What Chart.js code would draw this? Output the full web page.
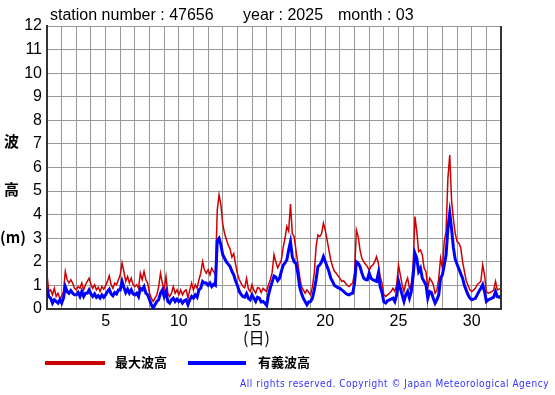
<!DOCTYPE html>
<html><head><meta charset="utf-8">
<script src="https://cdn.jsdelivr.net/npm/chart.js@4"></script>
<style>
html,body{margin:0;padding:0;background:#fff;}
#wrap{position:relative;width:555px;height:395px;overflow:hidden;background:#fff;}
#c{position:absolute;left:0;top:0;}
.t{position:absolute;white-space:nowrap;color:#000;line-height:1;}
.ttl{font-family:"Liberation Sans",Arial,sans-serif;font-size:16px;}
.jp{font-family:"Noto Sans CJK JP",sans-serif;font-weight:bold;}
.leg{position:absolute;height:4px;}
</style></head>
<body>
<div id="wrap">
<canvas id="c" width="555" height="395"></canvas>
<div class="t ttl" style="left:50px;top:7px;">station number : 47656</div>
<div class="t ttl" style="left:243px;top:7px;">year : 2025</div>
<div class="t ttl" style="left:338px;top:7px;">month : 03</div>
<div class="t jp" style="left:4px;top:133px;font-size:15px;">波</div>
<div class="t jp" style="left:4px;top:181px;font-size:15px;">高</div>
<div class="t jp" style="left:0px;top:229px;font-size:15px;">(m)</div>
<div class="t" style="left:243px;top:329px;font-size:16px;font-family:'Noto Sans CJK JP',sans-serif;">(日)</div>
<div class="leg" style="left:45px;top:361px;width:60px;background:#cc0000;"></div>
<div class="t jp" style="left:115px;top:355px;font-size:13px;">最大波高</div>
<div class="leg" style="left:188px;top:361px;width:58px;background:#0000ff;"></div>
<div class="t jp" style="left:258px;top:355px;font-size:13px;">有義波高</div>
<div id="foot" class="t" style="left:240px;top:379px;font-size:10px;font-family:'DejaVu Sans',sans-serif;color:#3333ff;letter-spacing:0.6px;transform-origin:0 0;">All rights reserved. Copyright © Japan Meteorological Agency</div>
</div>
<script>
// Hourly data sampled every 3 hours (8 values per day), March 1 00:00 to April 1 00:00
const startDay = 1;
const samplesPerDay = 8;
const maxWave = [
1.45,0.74,0.81,0.60,0.88,0.53,0.67,0.46,
0.53,0.74,1.59,1.24,1.10,1.24,1.10,0.88,
0.81,0.95,0.88,1.10,0.81,1.03,1.17,1.31,
1.03,0.88,1.03,0.81,0.92,0.74,0.95,0.84,
0.98,1.17,1.41,1.03,0.88,1.10,1.03,1.24,
1.45,1.95,1.59,1.17,1.38,1.10,1.31,1.03,
0.95,1.03,0.88,1.52,1.24,1.59,1.24,1.10,
0.67,0.46,0.32,0.46,0.60,0.95,1.52,1.10,
0.81,1.38,0.67,0.53,0.67,0.95,0.67,0.81,
0.60,0.81,0.60,0.75,0.81,0.46,0.81,1.10,
0.81,1.03,0.88,1.24,1.52,2.01,1.66,1.52,
1.66,1.45,1.73,1.59,1.45,4.20,4.84,4.41,
3.60,3.20,2.95,2.70,2.55,2.20,2.35,1.90,
1.50,1.25,1.10,0.95,0.90,1.30,0.85,0.74,
1.03,0.80,0.67,0.90,0.88,0.70,0.88,0.80,
0.74,1.03,1.25,1.55,2.30,2.00,1.75,1.90,
2.08,2.60,3.00,3.50,3.30,4.45,3.20,3.07,
2.50,1.95,1.38,0.95,0.81,0.67,0.81,0.70,
0.60,0.95,1.52,2.65,3.14,3.07,3.20,3.64,
3.35,2.93,2.50,2.08,1.80,1.60,1.52,1.40,
1.31,1.17,1.20,1.10,1.00,0.95,1.05,1.10,
1.52,3.35,3.07,2.50,2.15,2.00,1.90,1.80,
1.65,1.80,1.87,2.00,2.22,1.94,1.38,1.10,
0.60,0.53,0.60,0.67,0.75,0.88,0.74,1.03,
1.87,1.45,1.03,0.74,1.10,1.31,0.88,1.03,
1.80,3.92,3.28,2.44,2.50,2.30,1.73,1.59,
0.88,1.31,1.20,1.03,0.67,0.80,1.31,2.15,
1.73,2.86,3.30,5.54,6.53,4.60,3.80,3.20,
2.86,2.80,2.60,2.01,1.60,1.20,1.00,0.81,
0.74,0.80,0.88,1.03,1.10,1.17,1.87,1.45,
0.74,0.67,0.70,0.74,0.80,1.17,0.81,0.85,
0.85];
const sigWave = [
0.88,0.53,0.46,0.25,0.39,0.32,0.25,0.39,
0.25,0.46,0.95,0.74,0.67,0.78,0.67,0.60,
0.60,0.70,0.53,0.74,0.53,0.67,0.67,0.81,
0.64,0.53,0.64,0.49,0.56,0.46,0.60,0.50,
0.60,0.74,0.84,0.64,0.56,0.70,0.64,0.81,
0.81,1.17,0.92,0.70,0.84,0.67,0.81,0.64,
0.60,0.67,0.53,0.88,0.81,0.95,0.67,0.60,
0.39,0.18,0.04,0.18,0.32,0.39,0.67,0.81,
0.53,0.74,0.32,0.25,0.39,0.46,0.32,0.42,
0.32,0.39,0.25,0.35,0.39,0.18,0.39,0.53,
0.46,0.60,0.50,0.81,0.88,1.17,1.10,1.10,
1.00,1.10,0.95,1.05,1.00,2.90,3.00,2.72,
2.30,2.15,2.00,1.90,1.80,1.60,1.45,1.20,
1.00,0.75,0.62,0.53,0.50,0.65,0.45,0.39,
0.60,0.45,0.32,0.50,0.46,0.30,0.32,0.25,
0.15,0.60,0.90,1.15,1.40,1.35,1.20,1.30,
1.59,1.85,1.95,2.08,2.50,2.85,2.22,2.00,
1.94,1.52,0.95,0.67,0.46,0.32,0.18,0.30,
0.32,0.46,0.81,1.24,1.80,1.87,2.00,2.22,
2.01,1.80,1.59,1.31,1.17,1.00,0.95,0.90,
0.88,0.81,0.75,0.67,0.62,0.60,0.65,0.67,
1.10,2.00,1.94,1.80,1.52,1.31,1.25,1.24,
1.52,1.30,1.24,1.20,1.17,1.52,0.95,0.70,
0.30,0.25,0.35,0.39,0.42,0.46,0.32,0.60,
1.17,0.88,0.60,0.32,0.60,0.74,0.46,0.74,
1.40,2.36,2.15,1.59,1.73,1.31,1.17,1.03,
0.46,0.74,0.70,0.46,0.25,0.40,0.60,1.31,
1.45,1.87,2.30,3.42,4.06,3.40,2.60,2.10,
1.90,1.70,1.50,1.31,1.00,0.80,0.60,0.46,
0.39,0.42,0.45,0.60,0.75,0.88,1.03,0.74,
0.32,0.39,0.42,0.46,0.50,0.74,0.53,0.50,
0.55];
const xTickLabels = [5,10,15,20,25,30];
const yTicks = [0,1,2,3,4,5,6,7,8,9,10,11,12];

const toPts = arr => arr.map((v,i)=>({x: startDay + i/samplesPerDay, y: v}));

const rightEdge = {
  id:'rightEdge',
  afterDraw(chart){
    const a = chart.chartArea, ctx = chart.ctx;
    ctx.save();
    ctx.strokeStyle = '#333';
    ctx.lineWidth = 2;
    ctx.beginPath();
    ctx.moveTo(a.right, a.top);
    ctx.lineTo(a.right, a.bottom);
    ctx.stroke();
    ctx.restore();
  }
};

new Chart(document.getElementById('c'), {
  type:'line',
  data:{datasets:[
    {label:'最大波高', data: toPts(maxWave), borderColor:'#cc0000', borderWidth:1.5, pointRadius:0, tension:0, order:2},
    {label:'有義波高', data: toPts(sigWave), borderColor:'#0000ff', borderWidth:3, pointRadius:0, tension:0, order:1}
  ]},
  options:{
    responsive:false, animation:false, devicePixelRatio:1,
    layout:{padding:{top:26,right:54,left:0,bottom:0}},
    plugins:{legend:{display:false}, tooltip:{enabled:false}},
    scales:{
      x:{type:'linear', min:1, max:32,
        ticks:{stepSize:1, autoSkip:false, maxRotation:0, padding:3, color:'#000',
          font:{family:'"Liberation Sans", Arial, sans-serif', size:16},
          callback:v => xTickLabels.includes(v) ? String(v) : ''},
        grid:{color:'#999', lineWidth:1, drawTicks:false},
        border:{color:'#333', width:2},
        afterFit:s=>{s.height = 86;}
      },
      y:{min:0, max:12,
        afterBuildTicks:s=>{s.ticks = yTicks.map(v=>({value:v}));},
        ticks:{padding:5, color:'#000',
          font:{family:'"Liberation Sans", Arial, sans-serif', size:16}},
        grid:{color:'#999', lineWidth:1, drawTicks:false},
        border:{color:'#333', width:2},
        afterFit:s=>{s.width = 47;}
      }
    }
  },
  plugins:[rightEdge]
});

const f = document.getElementById('foot');
const w = f.getBoundingClientRect().width;
f.style.transform = 'scaleX(' + (309 / w) + ')';
</script>
</body></html>
